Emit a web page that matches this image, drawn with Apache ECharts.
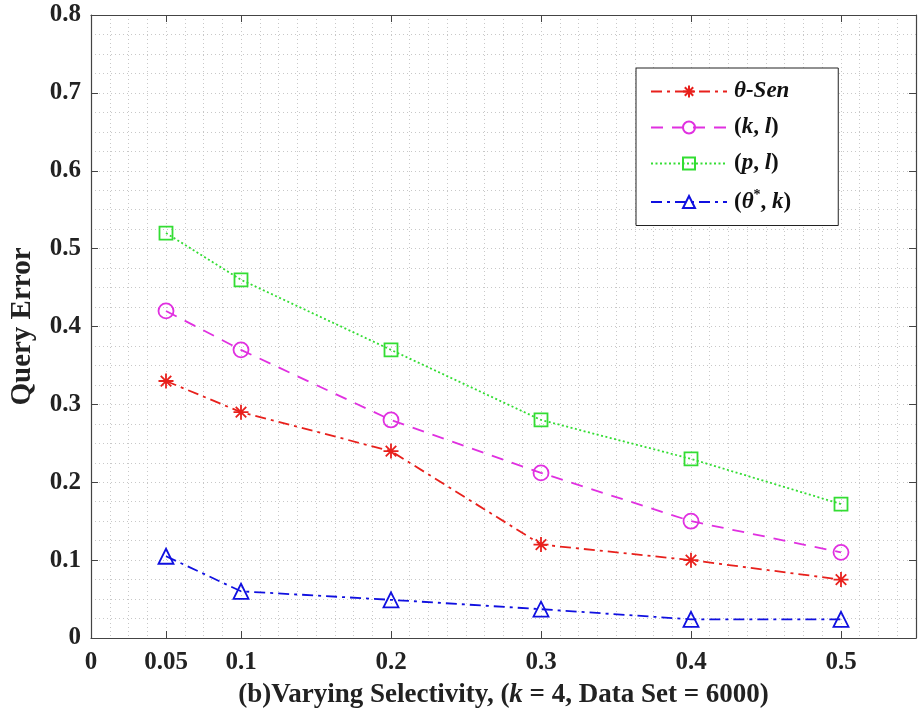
<!DOCTYPE html>
<html>
<head>
<meta charset="utf-8">
<script src="https://cdn.jsdelivr.net/npm/echarts@6/dist/echarts.min.js"></script>
<style>
  html, body { margin: 0; padding: 0; background: #fff; }
  #chart { width: 918px; height: 714px; }
</style>
</head>
<body>
<div id="chart"></div>
<script>
const xValues = [0.05, 0.1, 0.2, 0.3, 0.4, 0.5]
const xTickLabels = [0, 0.05, 0.1, 0.2, 0.3, 0.4, 0.5]
const xTickMarks = [0.05, 0.1, 0.2, 0.3, 0.4, 0.5]

const thetaSen = [0.33, 0.29, 0.24, 0.12, 0.10, 0.075]
const kl = [0.42, 0.37, 0.28, 0.212, 0.15, 0.11]
const pl = [0.52, 0.46, 0.37, 0.28, 0.23, 0.172]
const thetaStarK = [0.105, 0.06, 0.049, 0.037, 0.024, 0.024]

const seriesNames = ['θ-Sen', '(k, l)', '(p, l)', '(θ*, k)']

const FONT = '"Liberation Serif", "DejaVu Serif", serif'
const AXIS_COLOR = '#444'
const GRID_COLOR = '#c8c8c8'

const chart = echarts.init(document.getElementById('chart'))

const asterisk = 'path://M-10,0L10,0M0,-10L0,10M-7,-7L7,7M-7,7L7,-7'

function pairs(ys) {
  return ys.map((y, i) => [xValues[i], y])
}

function lineSeries(name, data, color, dash, symbol, size) {
  return {
    name: name,
    type: 'line',
    xAxisIndex: 1,
    yAxisIndex: 1,
    data: pairs(data),
    symbol: symbol,
    symbolSize: size,
    lineStyle: { color: color, width: 1.8, type: dash },
    itemStyle: { color: 'rgba(255,255,255,0)', borderColor: color, borderWidth: 1.8 },
    emphasis: { disabled: true },
    z: 5
  }
}

const legendRich = {
  n: { fontFamily: FONT, fontWeight: 'bold', fontSize: 23, color: '#111' },
  i: { fontFamily: FONT, fontWeight: 'bold', fontStyle: 'italic', fontSize: 23, color: '#111' },
  s: { fontFamily: FONT, fontWeight: 'bold', fontSize: 14, color: '#111', padding: [0, 0, 14, 0] }
}

const option = {
  backgroundColor: '#fff',
  animation: false,
  grid: { left: 91, right: 2, top: 15, bottom: 76, show: false, outerBoundsMode: 'none' },
  legend: {
    orient: 'vertical',
    left: 636,
    top: 68,
    backgroundColor: '#fff',
    borderColor: '#222',
    borderWidth: 1,
    padding: [12, 47, 12, 14],
    itemWidth: 76,
    itemHeight: 15,
    itemGap: 13,
    data: seriesNames,
    formatter: function (name) {
      if (name === 'θ-Sen') return '{i|θ-Sen}'
      if (name === '(k, l)') return '{n|(}{i|k}{n|, }{i|l}{n|)}'
      if (name === '(p, l)') return '{n|(}{i|p}{n|, }{i|l}{n|)}'
      return '{n|(}{i|θ}{s|*}{n|, }{i|k}{n|)}'
    },
    textStyle: { rich: legendRich, padding: [0, 0, 0, 2] }
  },
  xAxis: [
    {
      // dotted background grid
      type: 'value', min: 0, max: 0.55, interval: 0.0125, position: 'bottom',
      axisLine: { show: false }, axisTick: { show: false }, axisLabel: { show: false },
      splitLine: { show: true, lineStyle: { color: GRID_COLOR, type: [1, 3], width: 1 } }
    },
    {
      type: 'value', min: 0, max: 0.55, position: 'bottom',
      name: '{n|(b)Varying Selectivity, (}{i|k}{n| = 4, Data Set = 6000)}',
      nameLocation: 'middle',
      nameGap: 44,
      nameTextStyle: { rich: {
        n: { fontFamily: FONT, fontWeight: 'bold', fontSize: 27, color: '#222' },
        i: { fontFamily: FONT, fontWeight: 'bold', fontStyle: 'italic', fontSize: 27, color: '#222' }
      } },
      axisLine: { show: true, onZero: false, lineStyle: { color: AXIS_COLOR, width: 1.2 } },
      axisTick: { show: true, inside: true, length: 7, customValues: xTickMarks, lineStyle: { color: AXIS_COLOR } },
      axisLabel: {
        customValues: xTickLabels, margin: 12,
        fontFamily: FONT, fontWeight: 'bold', fontSize: 25, color: '#222',
        formatter: v => String(+v.toFixed(2))
      },
      splitLine: { show: false }
    },
    {
      type: 'value', min: 0, max: 0.55, position: 'top',
      axisLine: { show: true, onZero: false, lineStyle: { color: AXIS_COLOR, width: 1.2 } },
      axisTick: { show: true, inside: true, length: 7, customValues: xTickMarks, lineStyle: { color: AXIS_COLOR } },
      axisLabel: { show: false },
      splitLine: { show: false }
    }
  ],
  yAxis: [
    {
      type: 'value', min: 0, max: 0.8, interval: 0.025, position: 'left',
      axisLine: { show: false }, axisTick: { show: false }, axisLabel: { show: false },
      splitLine: { show: true, lineStyle: { color: GRID_COLOR, type: [1, 3], width: 1 } }
    },
    {
      type: 'value', min: 0, max: 0.8, interval: 0.1, position: 'left',
      name: 'Query Error',
      nameLocation: 'middle',
      nameGap: 54,
      nameTextStyle: { fontFamily: FONT, fontWeight: 'bold', fontSize: 29, color: '#222' },
      axisLine: { show: true, onZero: false, lineStyle: { color: AXIS_COLOR, width: 1.2 } },
      axisTick: { show: true, inside: true, length: 7, lineStyle: { color: AXIS_COLOR } },
      axisLabel: {
        margin: 10, fontFamily: FONT, fontWeight: 'bold', fontSize: 25, color: '#222',
        formatter: v => String(+v.toFixed(1))
      },
      splitLine: { show: false }
    },
    {
      type: 'value', min: 0, max: 0.8, interval: 0.1, position: 'right',
      axisLine: { show: true, onZero: false, lineStyle: { color: AXIS_COLOR, width: 1.2 } },
      axisTick: { show: true, inside: true, length: 7, lineStyle: { color: AXIS_COLOR } },
      axisLabel: { show: false },
      splitLine: { show: false }
    }
  ],
  series: [
    lineSeries('θ-Sen', thetaSen, '#e8201c', [11, 5, 3, 5], asterisk, 15),
    lineSeries('(k, l)', kl, '#e030e0', [12, 9], 'circle', 15),
    lineSeries('(p, l)', pl, '#33dd33', [2, 2.5], 'rect', 13),
    lineSeries('(θ*, k)', thetaStarK, '#1010e0', [11, 5, 3, 5], 'triangle', 15)
  ]
}

chart.setOption(option)
</script>
</body>
</html>
